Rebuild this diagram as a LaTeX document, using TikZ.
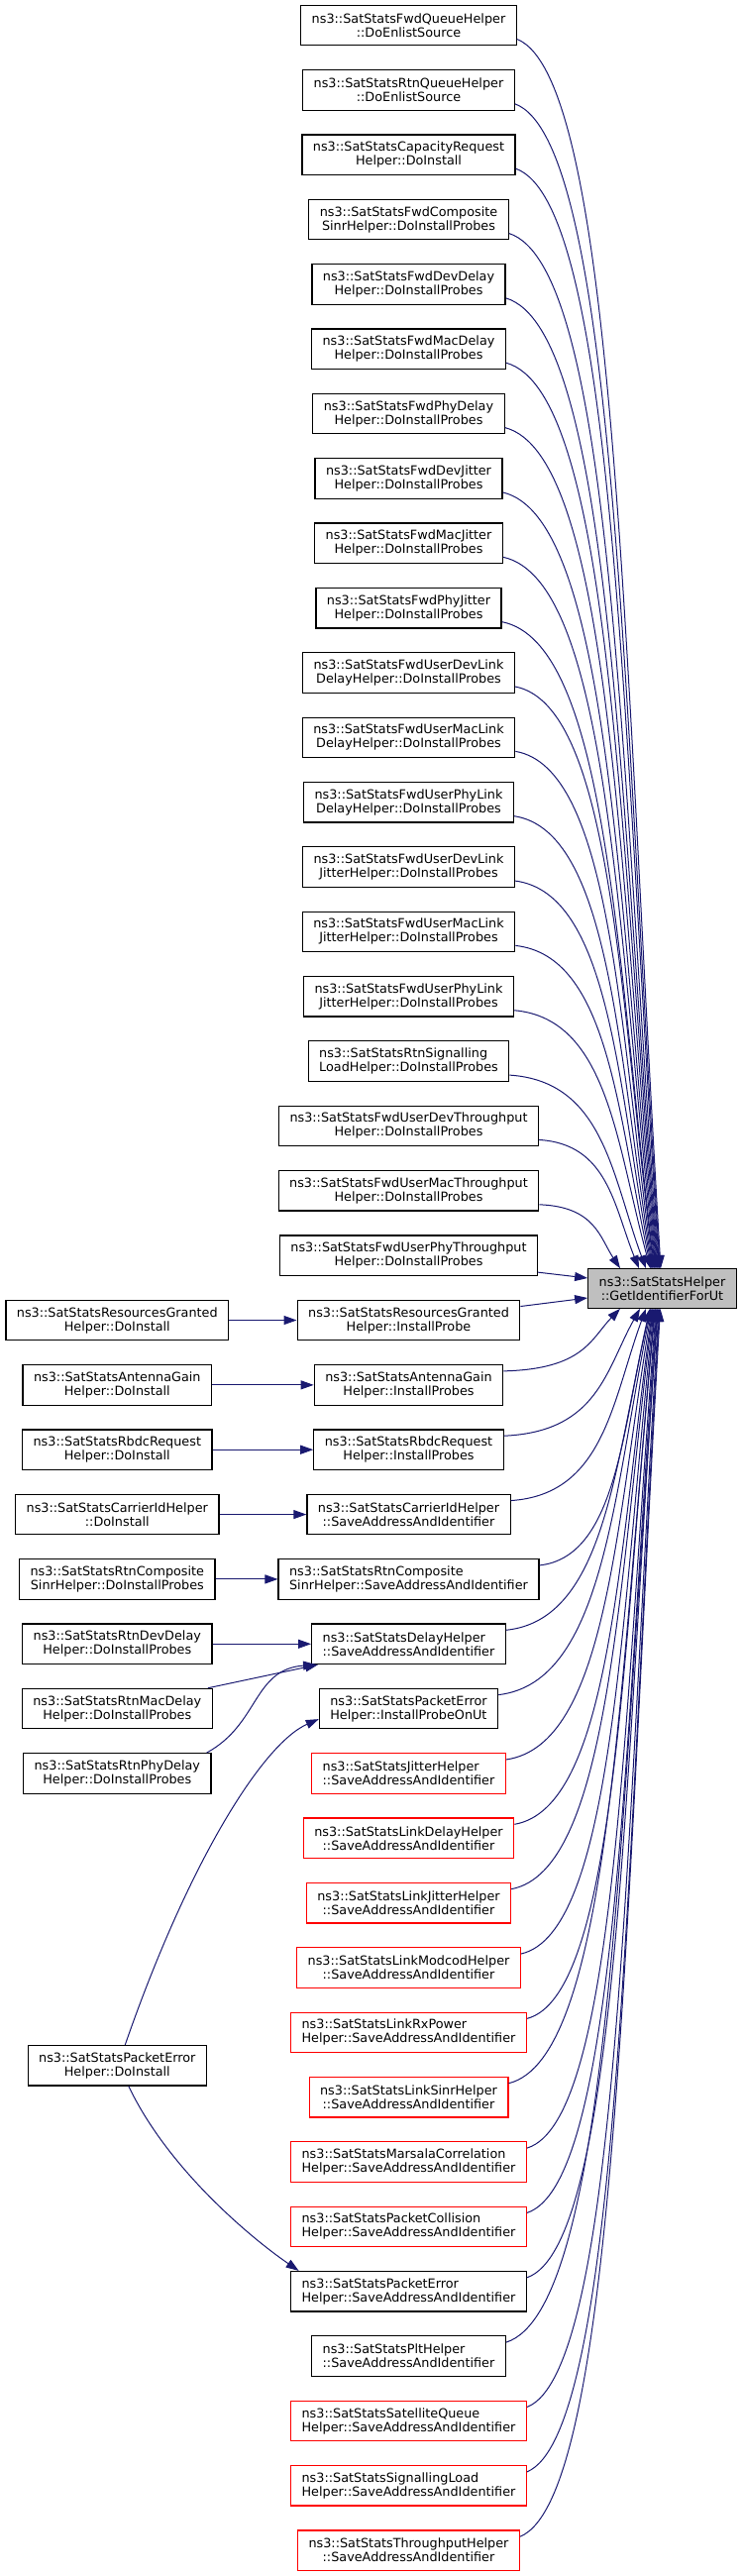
\documentclass[tikz,border=0pt]{standalone}
\usepackage{fontspec}
\setmainfont{DejaVu Sans}
\usetikzlibrary{arrows.meta,calc}
\definecolor{callblue}{RGB}{25,25,112}
\definecolor{focusgray}{RGB}{191,191,191}

\begin{document}
\begin{tikzpicture}[x=1pt,y=1pt,
    fn/.style={draw=black,fill=white,line width=1.2pt,inner xsep=11pt,inner ysep=0pt,
      minimum height=40.5pt,align=center,font=\fontsize{12.8}{14}\selectfont},
    fnl/.style={fn,align=left},
    trunc/.style={draw=red},
    call/.style={draw=callblue,line width=1pt,-{Triangle[length=13pt,width=9pt]}}]
    \useasboundingbox (0,0) rectangle (749,-2600);

    % the function whose callers are shown
    \node[fn,fill=focusgray,minimum height=39.5pt] (t) at (668.5,-1300.5) {ns3::SatStatsHelper\\::GetIdentifierForUt};

    % direct callers
    \node[fn] (m0) at (412.5,-25.5) {ns3::SatStatsFwdQueueHelper\\::DoEnlistSource};
    \node[fn] (m1) at (412.5,-90.85) {ns3::SatStatsRtnQueueHelper\\::DoEnlistSource};
    \node[fn] (m2) at (412.5,-156.2) {ns3::SatStatsCapacityRequest\\Helper::DoInstall};
    \node[fn] (m3) at (412.5,-221.55) {ns3::SatStatsFwdComposite\\SinrHelper::DoInstallProbes};
    \node[fn] (m4) at (412.5,-286.9) {ns3::SatStatsFwdDevDelay\\Helper::DoInstallProbes};
    \node[fn] (m5) at (412.5,-352.25) {ns3::SatStatsFwdMacDelay\\Helper::DoInstallProbes};
    \node[fn] (m6) at (412.5,-417.6) {ns3::SatStatsFwdPhyDelay\\Helper::DoInstallProbes};
    \node[fn] (m7) at (412.5,-482.95) {ns3::SatStatsFwdDevJitter\\Helper::DoInstallProbes};
    \node[fn] (m8) at (412.5,-548.3) {ns3::SatStatsFwdMacJitter\\Helper::DoInstallProbes};
    \node[fn] (m9) at (412.5,-613.65) {ns3::SatStatsFwdPhyJitter\\Helper::DoInstallProbes};
    \node[fn] (m10) at (412.5,-679.0) {ns3::SatStatsFwdUserDevLink\\DelayHelper::DoInstallProbes};
    \node[fn] (m11) at (412.5,-744.35) {ns3::SatStatsFwdUserMacLink\\DelayHelper::DoInstallProbes};
    \node[fn] (m12) at (412.5,-809.7) {ns3::SatStatsFwdUserPhyLink\\DelayHelper::DoInstallProbes};
    \node[fn] (m13) at (412.5,-875.05) {ns3::SatStatsFwdUserDevLink\\JitterHelper::DoInstallProbes};
    \node[fn] (m14) at (412.5,-940.4) {ns3::SatStatsFwdUserMacLink\\JitterHelper::DoInstallProbes};
    \node[fn] (m15) at (412.5,-1005.75) {ns3::SatStatsFwdUserPhyLink\\JitterHelper::DoInstallProbes};
    \node[fnl] (m16) at (412.5,-1071.1) {ns3::SatStatsRtnSignalling\\LoadHelper::DoInstallProbes};
    \node[fn] (m17) at (412.5,-1136.45) {ns3::SatStatsFwdUserDevThroughput\\Helper::DoInstallProbes};
    \node[fn] (m18) at (412.5,-1201.8) {ns3::SatStatsFwdUserMacThroughput\\Helper::DoInstallProbes};
    \node[fn] (m19) at (412.5,-1267.15) {ns3::SatStatsFwdUserPhyThroughput\\Helper::DoInstallProbes};
    \node[fn] (m20) at (412.5,-1332.5) {ns3::SatStatsResourcesGranted\\Helper::InstallProbe};
    \node[fn] (m21) at (412.5,-1397.85) {ns3::SatStatsAntennaGain\\Helper::InstallProbes};
    \node[fn] (m22) at (412.5,-1463.2) {ns3::SatStatsRbdcRequest\\Helper::InstallProbes};
    \node[fn] (m23) at (412.5,-1528.55) {ns3::SatStatsCarrierIdHelper\\::SaveAddressAndIdentifier};
    \node[fnl] (m24) at (412.5,-1593.9) {ns3::SatStatsRtnComposite\\SinrHelper::SaveAddressAndIdentifier};
    \node[fnl] (m25) at (412.5,-1659.25) {ns3::SatStatsDelayHelper\\::SaveAddressAndIdentifier};
    \node[fnl] (m26) at (412.5,-1724.6) {ns3::SatStatsPacketError\\Helper::InstallProbeOnUt};
    \node[fnl,trunc] (m27) at (412.5,-1789.95) {ns3::SatStatsJitterHelper\\::SaveAddressAndIdentifier};
    \node[fn,trunc] (m28) at (412.5,-1855.3) {ns3::SatStatsLinkDelayHelper\\::SaveAddressAndIdentifier};
    \node[fn,trunc] (m29) at (412.5,-1920.65) {ns3::SatStatsLinkJitterHelper\\::SaveAddressAndIdentifier};
    \node[fn,trunc] (m30) at (412.5,-1986.0) {ns3::SatStatsLinkModcodHelper\\::SaveAddressAndIdentifier};
    \node[fnl,trunc] (m31) at (412.5,-2051.35) {ns3::SatStatsLinkRxPower\\Helper::SaveAddressAndIdentifier};
    \node[fn,trunc] (m32) at (412.5,-2116.7) {ns3::SatStatsLinkSinrHelper\\::SaveAddressAndIdentifier};
    \node[fnl,trunc] (m33) at (412.5,-2182.05) {ns3::SatStatsMarsalaCorrelation\\Helper::SaveAddressAndIdentifier};
    \node[fnl,trunc] (m34) at (412.5,-2247.4) {ns3::SatStatsPacketCollision\\Helper::SaveAddressAndIdentifier};
    \node[fnl] (m35) at (412.5,-2312.75) {ns3::SatStatsPacketError\\Helper::SaveAddressAndIdentifier};
    \node[fnl] (m36) at (412.5,-2378.1) {ns3::SatStatsPltHelper\\::SaveAddressAndIdentifier};
    \node[fnl,trunc] (m37) at (412.5,-2443.45) {ns3::SatStatsSatelliteQueue\\Helper::SaveAddressAndIdentifier};
    \node[fnl,trunc] (m38) at (412.5,-2508.8) {ns3::SatStatsSignallingLoad\\Helper::SaveAddressAndIdentifier};
    \node[fn,trunc] (m39) at (412.5,-2574.15) {ns3::SatStatsThroughputHelper\\::SaveAddressAndIdentifier};

    % second level callers
    \node[fn] (l20) at (118.3,-1332.5) {ns3::SatStatsResourcesGranted\\Helper::DoInstall};
    \node[fn] (l21) at (118.3,-1397.85) {ns3::SatStatsAntennaGain\\Helper::DoInstall};
    \node[fn] (l22) at (118.3,-1463.2) {ns3::SatStatsRbdcRequest\\Helper::DoInstall};
    \node[fn] (l23) at (118.3,-1528.55) {ns3::SatStatsCarrierIdHelper\\::DoInstall};
    \node[fn] (l24) at (118.3,-1593.9) {ns3::SatStatsRtnComposite\\SinrHelper::DoInstallProbes};
    \node[fn] (l25) at (118.3,-1659.25) {ns3::SatStatsRtnDevDelay\\Helper::DoInstallProbes};
    \node[fn] (l26) at (118.3,-1724.6) {ns3::SatStatsRtnMacDelay\\Helper::DoInstallProbes};
    \node[fn] (l27) at (118.3,-1789.95) {ns3::SatStatsRtnPhyDelay\\Helper::DoInstallProbes};
    \node[fn] (lpe) at (118.3,-2084.7) {ns3::SatStatsPacketError\\Helper::DoInstall};

    % calls coming in from above
    \foreach \i/\ex in {0/667,1/666.3,2/665.6,3/664.9,4/664.2,5/663.5,6/662.8,7/662.1,8/661.4,
        9/660.7,10/660,11/659.3,12/658.6,13/657.9,14/657.2,15/656.5,16/652,17/645,18/626}
      \draw[call] let \p1 = ($(m\i.east)+(0,-14)$), \p2 = (\ex,0 |- t.north) in
        (\p1) .. controls ({\x1+0.69*(\x2-\x1)},{\y1-0.032*(\y1-\y2)})
          and ({\x2-0.25*(\x2-\x1)},{\y2+0.48*(\y1-\y2)}) .. (\p2);

    % calls coming in from below
    \foreach \i/\ex in {21/626,22/646,23/652,24/656,25/656.7,26/657.4,27/658.1,28/658.8,29/659.5,
        30/660.2,31/660.9,32/661.6,33/662.3,34/663,35/663.7,36/664.4,37/665.1,38/665.8,39/666.5}
      \draw[call] let \p1 = ($(m\i.east)+(0,14)$), \p2 = (\ex,0 |- t.south) in
        (\p1) .. controls ({\x1+0.69*(\x2-\x1)},{\y1+0.032*(\y2-\y1)})
          and ({\x2-0.25*(\x2-\x1)},{\y2-0.48*(\y2-\y1)}) .. (\p2);

    \draw[call] ($(m19.east)+(0,-17)$) -- ($(t.west)+(0,10.5)$);
    \draw[call] ($(m20.east)+(0,14)$) -- ($(t.west)+(0,-9.5)$);

    % left column
    \draw[call] (l20) -- (m20);
    \draw[call] (l21) -- (m21);
    \draw[call] (l22) -- (m22);
    \draw[call] (l23) -- (m23);
    \draw[call] (l24) -- (m24);
    \draw[call] (l25) -- (m25);
    \draw[call] ($(l26.north east)+(-5,0)$) -- ($(m25.south west)+(7,0)$);
    \draw[call] ($(l27.north east)+(-5,0)$) .. controls (262,-1740) and (255,-1685) .. ($(m25.south west)+(5,0)$);
    \draw[call] ($(lpe.north)+(8,0)$) .. controls (190,-1880) and (265,-1760) .. ($(m26.west)+(0,-10.5)$);
    \draw[call] ($(lpe.south)+(11.5,0)$) .. controls (170,-2190) and (255,-2260) .. ($(m35.north west)+(8.6,0)$);
\end{tikzpicture}
\end{document}
